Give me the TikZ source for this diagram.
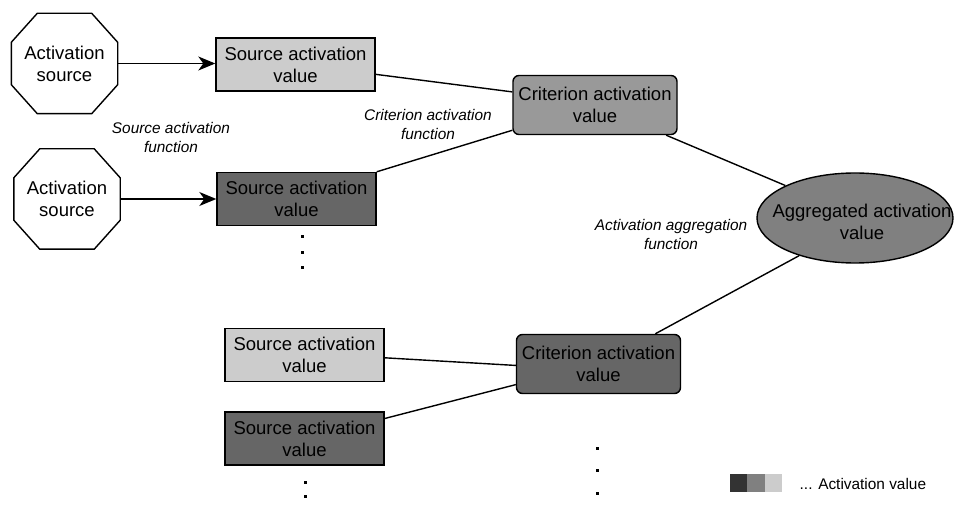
\documentclass[tikz,border=0pt]{standalone}
\usepackage{fontspec}
\setmainfont{Liberation Sans}
\usetikzlibrary{arrows.meta,shapes.geometric}
\definecolor{lightg}{HTML}{CCCCCC}
\definecolor{midg}{HTML}{999999}
\definecolor{aggg}{HTML}{808080}
\definecolor{darkg}{HTML}{666666}
\definecolor{darkestg}{HTML}{333333}
\newcommand\mainsz{\fontsize{18.5}{22}\selectfont}
\newcommand\labsz{\fontsize{15.4}{19}\selectfont}
\newcommand\octpath[1]{\draw ([xshift=26pt]#1.north west) -- ([xshift=-26pt]#1.north east) -- ([yshift=-29pt]#1.north east) -- ([yshift=29pt]#1.south east) -- ([xshift=-26pt]#1.south east) -- ([xshift=26pt]#1.south west) -- ([yshift=29pt]#1.south west) -- ([yshift=-29pt]#1.north west) -- cycle;}
\begin{document}
\begin{tikzpicture}[x=1pt,y=-1pt,line width=1.4pt,
  oct/.style={inner sep=0pt,minimum width=105pt,minimum height=99pt,align=center,font=\mainsz},
  srcbox/.style={draw,inner sep=0pt,minimum width=159pt,minimum height=53pt,align=center,font=\mainsz},
  critbox/.style={draw,rounded corners=6pt,inner sep=0pt,minimum width=164pt,minimum height=59pt,align=center,font=\mainsz},
  aggell/.style={draw,ellipse,fill=aggg,inner sep=0pt,minimum width=196pt,minimum height=90pt},
  txt/.style={inner sep=0pt,align=center,font=\mainsz},
  lab/.style={inner sep=0pt,align=center,font=\labsz\itshape},
  dotn/.style={fill=black,inner sep=0pt,minimum size=3pt},
  sq/.style={inner sep=0pt,minimum size=17.3pt},
  arr/.style={-{Stealth[length=17pt,width=14pt,inset=5pt]}},
  conn/.style={}]
\useasboundingbox (0,0) rectangle (955,510);
% sources
\node[oct] (o1) at (64.5,63.5) {Activation\\source};
\octpath{o1}
\node[oct] (o2) at (67,199) {Activation\\source};
\octpath{o2}
% source activation values
\node[srcbox,fill=lightg] (b1) at (295.5,64.5) {Source activation\\value};
\node[srcbox,fill=darkg] (b2) at (296.5,199) {Source activation\\value};
\node[srcbox,fill=lightg] (b3) at (304.5,355) {Source activation\\value};
\node[srcbox,fill=darkg] (b4) at (304.5,438.5) {Source activation\\value};
% criterion values
\node[critbox,fill=midg] (c1) at (595,105) {Criterion activation\\value};
\node[critbox,fill=darkg] (c2) at (598.5,364) {Criterion activation\\value};
% aggregated
\node[aggell] (e) at (855,218) {};
\node[txt] (et) at (862,222) {Aggregated activation\\value};
% arrows
\draw[arr] (o1.east) -- (o1.east -| b1.west);
\draw[arr] (o2.east) -- (o2.east -| b2.west);
% connectors
\draw[conn] (b1.-7.5) -- (c1.171.7);
\draw[conn] (b2.north east) -- (c1.197);
\draw[conn] (c1.-23.8) -- (e.155.5);
\draw[conn] (e.214.4) -- (c2.28.6);
\draw[conn] (b3.-2) -- (c2.181.4);
\draw[conn] (b4.14.5) -- (c2.194.3);
% labels
\node[lab] (l1) at (171,137) {Source activation\\function};
\node[lab] (l2) at (428,124) {Criterion activation\\function};
\node[lab] (l3) at (671,234) {Activation aggregation\\function};
% dots
\node[dotn] (d1) at (302,237) {};
\node[dotn] (d2) at (302,253) {};
\node[dotn] (d3) at (302,268) {};
\node[dotn] (d4) at (305,482) {};
\node[dotn] (d5) at (305,496) {};
\node[dotn] (d6) at (597,448) {};
\node[dotn] (d7) at (597,470) {};
\node[dotn] (d8) at (597,493) {};
% legend
\node[sq,fill=darkestg] (q1) at (738.7,483) {};
\node[sq,fill=aggg] (q2) at (756,483) {};
\node[sq,fill=lightg] (q3) at (773.3,483) {};
\node[anchor=west,inner sep=0pt,font=\labsz] (lt) at (799,484) {... Activation value};
\end{tikzpicture}
\end{document}
